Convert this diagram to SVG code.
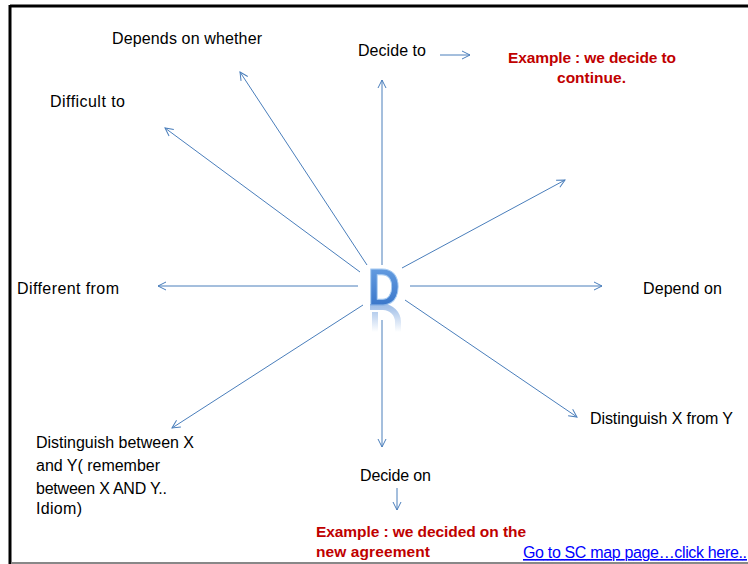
<svg xmlns="http://www.w3.org/2000/svg" width="748" height="564" viewBox="0 0 748 564">
<defs>
<style>
.t{font-family:"Liberation Sans",Arial,sans-serif;font-size:16px;fill:#000}
.r{font-family:"Liberation Sans",Arial,sans-serif;font-size:15.5px;font-weight:bold;fill:#c00000}
.l{font-family:"Liberation Sans",Arial,sans-serif;font-size:16px;fill:#0000ff;text-decoration:underline}
.c line{stroke:#4a7ebb;stroke-width:1;marker-end:url(#ah)}
</style>
<marker id="ah" viewBox="0 0 10 10" refX="9" refY="5" markerWidth="10" markerHeight="10" markerUnits="userSpaceOnUse" orient="auto">
<path d="M1,1 L9,5 L1,9" fill="none" stroke="#4a7ebb" stroke-width="1"/>
</marker>
<linearGradient id="dg" x1="0" y1="0" x2="0" y2="1">
<stop offset="0" stop-color="#6fa6e6"/>
<stop offset="1" stop-color="#2f6dc4"/>
</linearGradient>
<linearGradient id="rg" x1="0" y1="0" x2="0" y2="1">
<stop offset="0" stop-color="#5a8fd6" stop-opacity="0.55"/>
<stop offset="1" stop-color="#5a8fd6" stop-opacity="0"/>
</linearGradient>
</defs>
<rect width="748" height="564" fill="#fff"/>
<g id="frame">
<line x1="10" y1="6" x2="748" y2="6" stroke="#000" stroke-width="3"/>
<line x1="10" y1="5" x2="10" y2="564" stroke="#000" stroke-width="3"/>
<line x1="11" y1="563" x2="748" y2="563" stroke="#888" stroke-width="2"/>
</g>
<g id="center">
<text transform="translate(384,305) scale(0.86,1)" text-anchor="middle" font-family="'Liberation Sans',Arial,sans-serif" font-weight="bold" font-size="52" fill="url(#dg)" stroke="#a8ccf2" stroke-width="1">D</text>
<path d="M370,307 h13 a15,15 0 0 1 15,15 v10 M375,312 v20" fill="none" stroke="url(#rg)" stroke-width="6"/>
</g>
<g class="c" id="connectors">
<line x1="382" y1="265" x2="382" y2="80"/>
<line x1="367" y1="265" x2="240" y2="72"/>
<line x1="360" y1="272" x2="165" y2="128"/>
<line x1="402" y1="268" x2="565" y2="180"/>
<line x1="410" y1="286" x2="602" y2="286"/>
<line x1="358" y1="286" x2="158" y2="286"/>
<line x1="405" y1="300" x2="577" y2="417"/>
<line x1="363" y1="305" x2="172" y2="428"/>
<line x1="382" y1="320" x2="382" y2="447"/>
<line x1="440" y1="55" x2="470" y2="55"/>
<line x1="397" y1="488" x2="397" y2="510"/>
</g>
<g id="n-depends-whether"><text class="t" x="112" y="44" textLength="150">Depends on whether</text></g>
<g id="n-decide-to"><text class="t" x="358" y="56" textLength="68">Decide to</text></g>
<g id="n-example1"><text class="r" x="508" y="63" textLength="168">Example : we decide to</text><text class="r" x="557" y="83" textLength="69">continue.</text></g>
<g id="n-difficult"><text class="t" x="50" y="107" textLength="75">Difficult to</text></g>
<g id="n-different"><text class="t" x="17" y="294" textLength="102">Different from</text></g>
<g id="n-depend-on"><text class="t" x="643" y="294" textLength="79">Depend on</text></g>
<g id="n-distinguish-from"><text class="t" x="590" y="424" textLength="143">Distinguish X from Y</text></g>
<g id="n-distinguish-between">
<text class="t" x="36" y="448" textLength="158">Distinguish between X</text>
<text class="t" x="36" y="471" textLength="124">and Y( remember</text>
<text class="t" x="36" y="494" textLength="131">between X AND Y..</text>
<text class="t" x="36" y="514" textLength="46">Idiom)</text>
</g>
<g id="n-decide-on"><text class="t" x="360" y="481" textLength="71">Decide on</text></g>
<g id="n-example2"><text class="r" x="316" y="537" textLength="210">Example : we decided on the</text><text class="r" x="316" y="557" textLength="114">new agreement</text></g>
<g id="n-link"><text class="l" x="523" y="558" textLength="224">Go to SC map page…click here..</text></g>
</svg>
